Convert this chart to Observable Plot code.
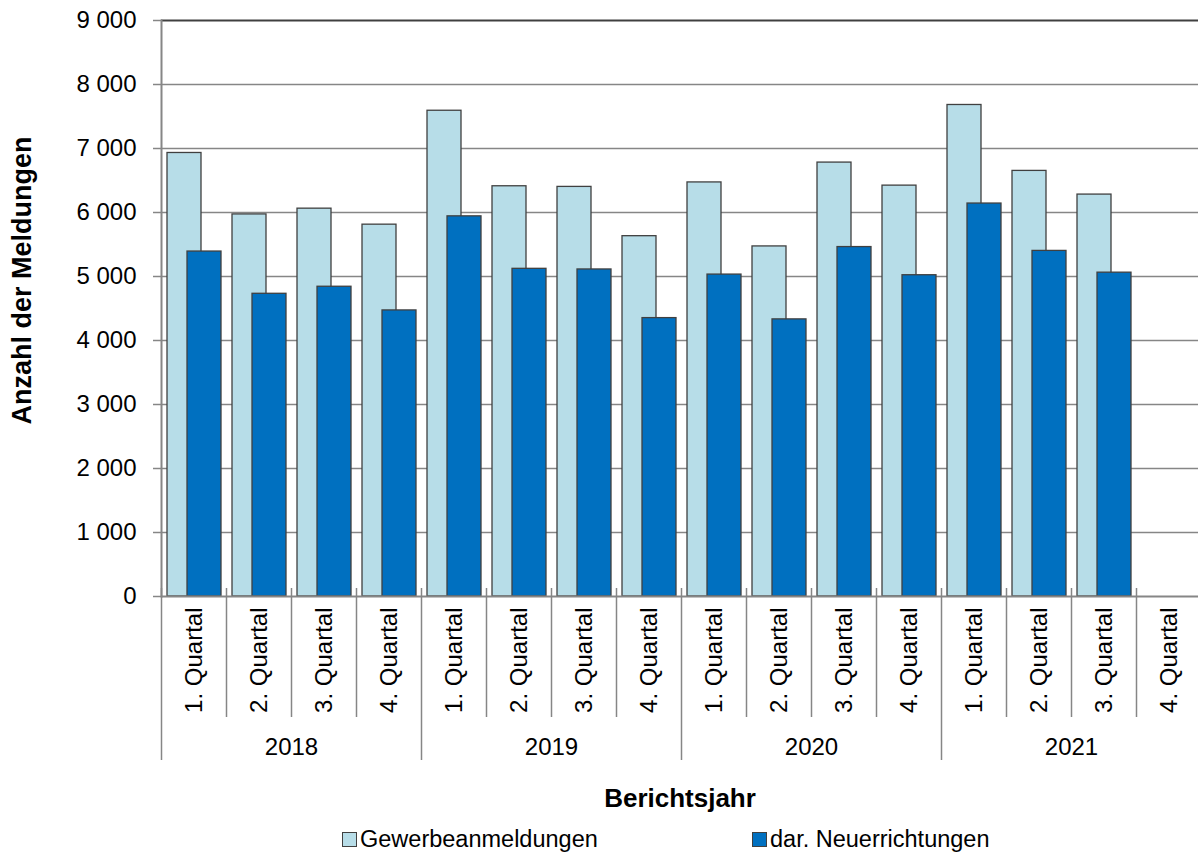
<!DOCTYPE html>
<html><head><meta charset="utf-8">
<script src="https://cdn.jsdelivr.net/npm/d3@7"></script>
<script src="https://cdn.jsdelivr.net/npm/@observablehq/plot@0.6"></script>
<style>
body{margin:0;background:#fff;font-family:"Liberation Sans",Arial,sans-serif;}
#chart svg{display:block}
.legend{position:relative;width:1198px;height:38px;font-size:23.5px;color:#000}
.item{position:absolute;top:9px;display:flex;align-items:center;line-height:28px}
.sw{width:13px;height:13px;border:1px solid #404040;margin-right:3px}
</style></head><body>
<div id="chart"></div>
<div class="legend" id="legend"></div>
<script>
const years = ["2018", "2019", "2020", "2021"];
const quarters = ["1. Quartal", "2. Quartal", "3. Quartal", "4. Quartal"];
const gewerbeanmeldungen = [6930, 5970, 6060, 5810, 7590, 6410, 6400, 5630, 6470, 5470, 6780, 6420, 7680, 6650, 6280, null];
const neuerrichtungen = [5390, 4730, 4840, 4470, 5940, 5120, 5110, 4350, 5030, 4330, 5460, 5020, 6140, 5400, 5060, null];
const seriesNames = ["Gewerbeanmeldungen", "dar. Neuerrichtungen"];
const seriesColors = ["#b7dde8", "#0070c0"];
const yTicks = [0, 1000, 2000, 3000, 4000, 5000, 6000, 7000, 8000, 9000];

const rows = [];
years.forEach((yr, i) => quarters.forEach((q, j) => {
  const k = i * 4 + j;
  rows.push({key: yr + "|" + q, year: yr, quarter: q, gew: gewerbeanmeldungen[k], neu: neuerrichtungen[k]});
}));
const keys = rows.map(d => d.key);
const BW = 65;
const grid = "#868686", edge = "#404040";

const chart = Plot.plot({
  width: 1198,
  height: 816,
  marginLeft: 161,
  marginRight: 0,
  marginTop: 20,
  marginBottom: 220,
  style: {fontFamily: "'Liberation Sans', Arial, sans-serif", fontSize: "24px", background: "#fff", color: "#000", overflow: "visible"},
  x: {type: "band", domain: keys, range: [161, 1201], padding: 0, axis: null},
  y: {domain: [0, 9000], axis: null},
  marks: [
    Plot.ruleY(yTicks.filter(v => v > 0 && v < 9000), {stroke: grid, strokeWidth: 1.5}),
    Plot.ruleY([9000], {stroke: edge, strokeWidth: 2}),
    Plot.barY(rows.filter(d => d.gew != null), {x: "key", y: "gew", fill: seriesColors[0], stroke: edge, strokeWidth: 1.3, insetLeft: 6, insetRight: 25}),
    Plot.barY(rows.filter(d => d.neu != null), {x: "key", y: "neu", fill: seriesColors[1], stroke: edge, strokeWidth: 1.3, insetLeft: 26, insetRight: 5}),
    Plot.ruleY([0], {stroke: grid, strokeWidth: 2}),
    Plot.frame({anchor: "left", stroke: grid, strokeWidth: 2}),
    Plot.ruleX(rows.filter(d => d.quarter !== quarters[0]), {x: "key", dx: -BW / 2, insetTop: 568, insetBottom: -121, stroke: grid, strokeWidth: 1.5}),
    Plot.ruleX(rows.filter(d => d.quarter === quarters[0]), {x: "key", dx: -BW / 2, insetTop: 568, insetBottom: -164, stroke: grid, strokeWidth: 1.5}),
    Plot.axisY({ticks: yTicks, tickFormat: d => d3.format(",")(d).replace(/,/g, " "), tickSize: 8, tickPadding: 17, fontSize: 24, stroke: grid, fill: "#000", strokeWidth: 1.5, label: null}),
    Plot.axisX({tickFormat: k => k.split("|")[1], tickRotate: -90, tickSize: 0, tickPadding: 11, fontSize: 24, fill: "#000", label: null}),
    Plot.text(rows.filter(d => d.quarter === quarters[1]), {x: "key", text: "year", dx: BW / 2, frameAnchor: "bottom", dy: 151, lineAnchor: "middle", textAnchor: "middle", fontSize: 24, fill: "#000"}),
    Plot.text(["Berichtsjahr"], {frameAnchor: "bottom", dy: 202, lineAnchor: "middle", textAnchor: "middle", fontWeight: "bold", fontSize: 26, fill: "#000"}),
    Plot.text(["Anzahl der Meldungen"], {frameAnchor: "left", dx: -139, dy: -28, rotate: -90, lineAnchor: "middle", textAnchor: "middle", fontWeight: "bold", fontSize: 27, fill: "#000"})
  ]
});
document.getElementById("chart").appendChild(chart);

const legendX = [342, 752];
const legend = document.getElementById("legend");
seriesNames.forEach((name, i) => {
  const it = document.createElement("div");
  it.className = "item";
  it.style.left = legendX[i] + "px";
  const sw = document.createElement("span");
  sw.className = "sw";
  sw.style.background = seriesColors[i];
  const t = document.createElement("span");
  t.textContent = name;
  it.appendChild(sw); it.appendChild(t);
  legend.appendChild(it);
});
</script>
</body></html>
